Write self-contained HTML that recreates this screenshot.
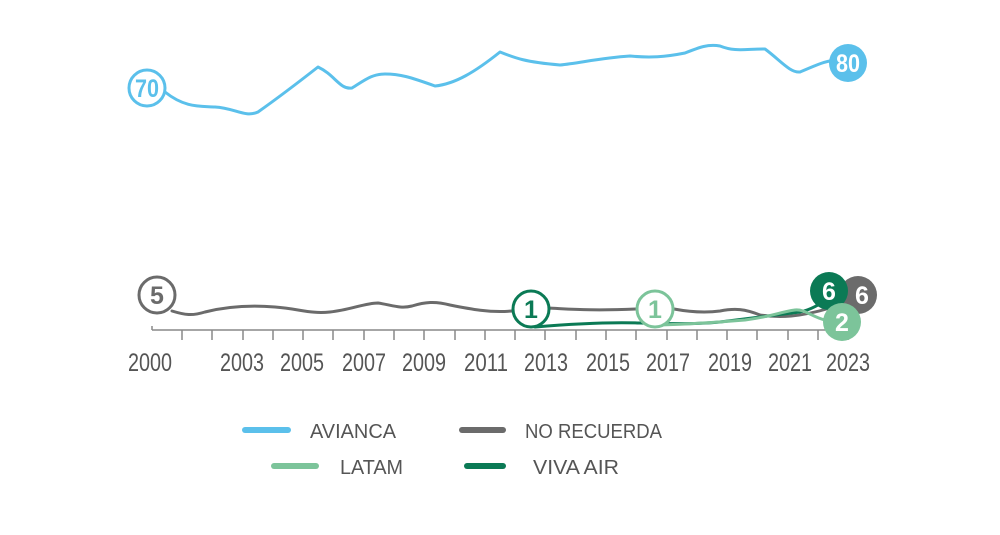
<!DOCTYPE html>
<html><head><meta charset="utf-8"><style>
body{margin:0;background:#fff;width:1000px;height:530px;overflow:hidden}
svg text{font-family:"Liberation Sans",sans-serif}
</style></head><body>
<svg width="1000" height="530" viewBox="0 0 1000 530" xmlns="http://www.w3.org/2000/svg">
<g fill="none" stroke-linecap="round" stroke-linejoin="round">
<path d="M165,92 C185,108 200,106 215,107 C235,108 245,118 258,112 C275,100 295,85 318,67 C335,75 340,90 352,88 C365,80 372,74 385,74 C400,74 410,77 435,86 C455,84 475,72 500,52 C515,58 525,62 560,65 C580,63 600,58 630,56 C650,58 665,57 685,53 C700,47 708,44 720,46 C735,52 745,49 765,49 C780,60 790,73 800,72 C815,66 825,60 840,60" stroke="#5bc0eb" stroke-width="3"/>
<path d="M172,311 C185,315 192,316 205,312 C225,307 250,305 275,307 C300,309 310,314 330,312 C350,310 365,303 378,303 C392,305 400,309 412,306 C425,302 435,301 450,305 C470,309 490,313 512,311 M548,308 C570,309 590,311 636,309 M674,309 C690,312 705,313 720,311 C735,308 745,309 760,315 C780,318 800,317 830,308 C840,305 848,300 855,297" stroke="#6b6b6b" stroke-width="3"/>
<path d="M535,327 C570,324 610,322 640,323 C670,324 700,324 720,322 C750,318 775,315 800,312 C815,309 825,300 832,296" stroke="#0b7a55" stroke-width="3"/>
<path d="M660,325 C690,324 720,322 745,320 C770,317 780,312 795,310 C805,309 812,317 825,320 C832,321 838,321 842,321" stroke="#7cc49a" stroke-width="3"/>
</g>
<g stroke="#888" stroke-width="1.5">
<line x1="152" y1="330" x2="852" y2="330"/>
<line x1="152" y1="326" x2="152" y2="330"/>
<line x1="182" y1="330" x2="182" y2="340"/><line x1="212" y1="330" x2="212" y2="340"/><line x1="243" y1="330" x2="243" y2="340"/><line x1="273" y1="330" x2="273" y2="340"/><line x1="303" y1="330" x2="303" y2="340"/><line x1="333" y1="330" x2="333" y2="340"/><line x1="364" y1="330" x2="364" y2="340"/><line x1="394" y1="330" x2="394" y2="340"/><line x1="424" y1="330" x2="424" y2="340"/><line x1="455" y1="330" x2="455" y2="340"/><line x1="485" y1="330" x2="485" y2="340"/><line x1="515" y1="330" x2="515" y2="340"/><line x1="545" y1="330" x2="545" y2="340"/><line x1="576" y1="330" x2="576" y2="340"/><line x1="606" y1="330" x2="606" y2="340"/><line x1="636" y1="330" x2="636" y2="340"/><line x1="667" y1="330" x2="667" y2="340"/><line x1="697" y1="330" x2="697" y2="340"/><line x1="727" y1="330" x2="727" y2="340"/><line x1="757" y1="330" x2="757" y2="340"/><line x1="788" y1="330" x2="788" y2="340"/><line x1="818" y1="330" x2="818" y2="340"/><line x1="848" y1="330" x2="848" y2="340"/>
</g>
<g font-size="25" fill="#555" text-anchor="middle">
<text x="150" y="371" textLength="44" lengthAdjust="spacingAndGlyphs">2000</text>
<text x="242" y="371" textLength="44" lengthAdjust="spacingAndGlyphs">2003</text>
<text x="302" y="371" textLength="44" lengthAdjust="spacingAndGlyphs">2005</text>
<text x="364" y="371" textLength="44" lengthAdjust="spacingAndGlyphs">2007</text>
<text x="424" y="371" textLength="44" lengthAdjust="spacingAndGlyphs">2009</text>
<text x="486" y="371" textLength="44" lengthAdjust="spacingAndGlyphs">2011</text>
<text x="546" y="371" textLength="44" lengthAdjust="spacingAndGlyphs">2013</text>
<text x="608" y="371" textLength="44" lengthAdjust="spacingAndGlyphs">2015</text>
<text x="668" y="371" textLength="44" lengthAdjust="spacingAndGlyphs">2017</text>
<text x="730" y="371" textLength="44" lengthAdjust="spacingAndGlyphs">2019</text>
<text x="790" y="371" textLength="44" lengthAdjust="spacingAndGlyphs">2021</text>
<text x="848" y="371" textLength="44" lengthAdjust="spacingAndGlyphs">2023</text>
</g>
<g font-weight="bold" text-anchor="middle" font-size="25">
<circle cx="147" cy="88" r="18" fill="#fff" stroke="#5bc0eb" stroke-width="3"/>
<text x="147" y="97" fill="#5bc0eb" textLength="24" lengthAdjust="spacingAndGlyphs">70</text>
<circle cx="848" cy="63" r="19" fill="#5bc0eb"/>
<text x="848" y="72" fill="#fff" textLength="24" lengthAdjust="spacingAndGlyphs">80</text>
<circle cx="157" cy="295" r="18" fill="#fff" stroke="#6b6b6b" stroke-width="3"/>
<text x="157" y="304" fill="#6b6b6b">5</text>
<circle cx="858" cy="295" r="19" fill="#6b6b6b"/>
<text x="862" y="304" fill="#fff">6</text>
<circle cx="531" cy="309" r="18" fill="#fff" stroke="#0b7a55" stroke-width="3"/>
<text x="531" y="318" fill="#0b7a55">1</text>
<circle cx="655" cy="309" r="18" fill="#fff" stroke="#7cc49a" stroke-width="3"/>
<text x="655" y="318" fill="#7cc49a">1</text>
<circle cx="829" cy="291" r="19" fill="#0b7a55"/>
<text x="829" y="300" fill="#fff">6</text>
<circle cx="842" cy="322" r="19" fill="#7cc49a"/>
<text x="842" y="331" fill="#fff">2</text>
</g>
<g stroke-width="6" stroke-linecap="round">
<line x1="245" y1="430" x2="288" y2="430" stroke="#5bc0eb"/>
<line x1="462" y1="430" x2="503" y2="430" stroke="#6b6b6b"/>
<line x1="274" y1="466" x2="316" y2="466" stroke="#7cc49a"/>
<line x1="467" y1="466" x2="503" y2="466" stroke="#0b7a55"/>
</g>
<g font-size="20" fill="#555">
<text x="310" y="438" textLength="86" lengthAdjust="spacingAndGlyphs">AVIANCA</text>
<text x="525" y="438" textLength="137" lengthAdjust="spacingAndGlyphs">NO RECUERDA</text>
<text x="340" y="474" textLength="63" lengthAdjust="spacingAndGlyphs">LATAM</text>
<text x="533" y="474" textLength="86" lengthAdjust="spacingAndGlyphs">VIVA AIR</text>
</g>
</svg>
</body></html>
